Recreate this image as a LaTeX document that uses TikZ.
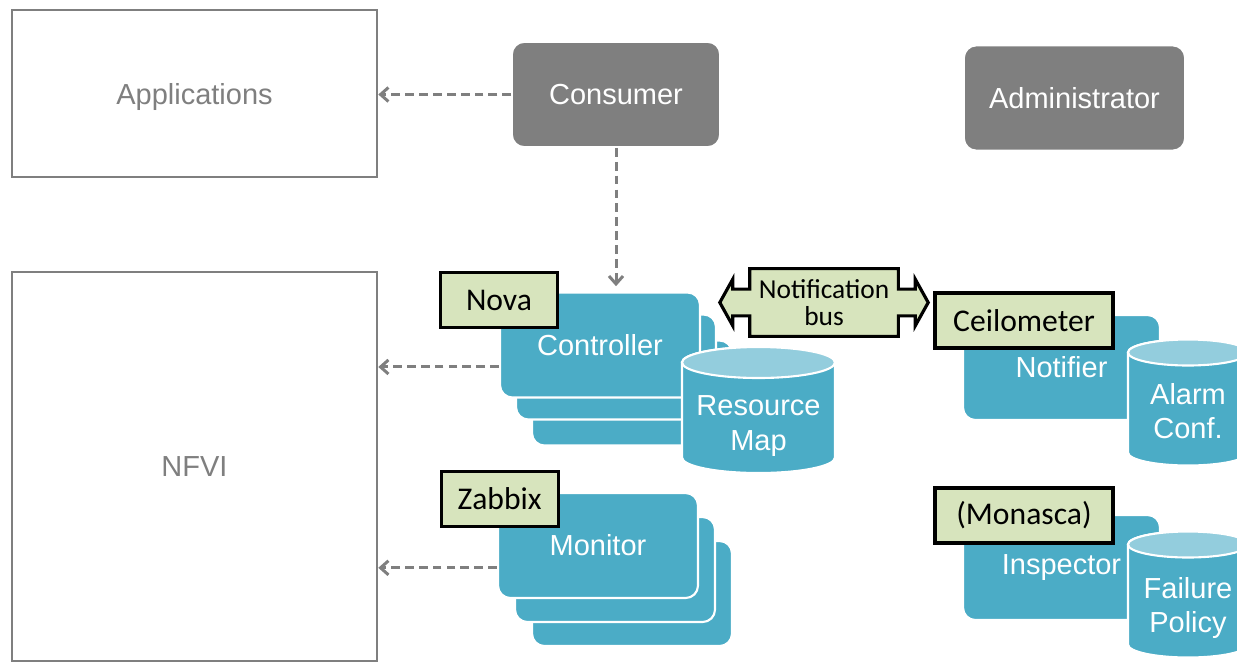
\documentclass[tikz,border=0pt]{standalone}
\usepackage{fontspec}
\setmainfont{Liberation Sans}
\newfontfamily\tagfont{Carlito}
\usetikzlibrary{arrows.meta,backgrounds,positioning}

\definecolor{linegray}{HTML}{7F7F7F}
\definecolor{procblue}{HTML}{4BACC6}
\definecolor{toplight}{HTML}{93CDDD}
\definecolor{tagfill}{HTML}{D7E4BD}

\tikzset{
  bigfont/.style={font=\fontsize{16.5}{19.5}\selectfont},
  outerbox/.style={draw=linegray, line width=1.5pt, text=linegray, bigfont, text depth=0pt},
  actor/.style={rounded corners=7pt, fill=linegray, draw=white, line width=1pt,
    text=white, bigfont, minimum height=2.1cm},
  procbox/.style={rounded corners=7pt, fill=procblue, draw=white, line width=1.2pt,
    text=white, bigfont, minimum width=4cm, minimum height=2.1cm},
  tagbox/.style={fill=tagfill, draw=black, line width=1.8pt, minimum height=1.1cm,
    font=\tagfont\fontsize{18}{20}\selectfont},
  storebody/.style={fill=procblue, draw=white, line width=1.2pt},
  storetop/.style={fill=toplight, draw=white, line width=1.2pt},
  storetext/.style={text=white, bigfont, align=center},
  busline/.style={fill=tagfill, draw=black, line width=1.8pt, line join=miter},
  dasharrow/.style={draw=linegray, line width=1.7pt, dash pattern=on 5pt off 2.9pt,
    -{Straight Barb[length=4.5pt,width=8pt]}}
}

\begin{document}
\begin{tikzpicture}[x=0.02cm, y=-0.02cm]
  \useasboundingbox (0,0) rectangle (1237,663);

  % outer boxes
  \node[outerbox, minimum width=7.3cm, minimum height=3.34cm] (apps) at (194.5,93.5) {Applications};
  \node[outerbox, minimum width=7.3cm, minimum height=7.78cm] (nfvi) at (194.5,466.5) {NFVI};

  % actors
  \node[actor, minimum width=4.16cm] (cons) at (616,94.5) {Consumer};
  \node[actor, minimum width=4.42cm] (admin) at (1074.5,98) {Administrator};

  % controller stack
  \node[procbox] (ctrlc) at (632,393) {};
  \node[procbox] (ctrlb) at (616,367) {};
  \node[procbox] (ctrl) at (600,345) {Controller};

  % monitor stack
  \node[procbox] (monc) at (632,593.5) {};
  \node[procbox] (monb) at (615,569.5) {};
  \node[procbox] (mon) at (598,545.5) {Monitor};

  % notifier and inspector
  \node[procbox, minimum width=3.94cm] (notif) at (1061.5,367.5) {Notifier};
  \node[procbox, minimum width=3.94cm] (insp) at (1061.5,567.5) {Inspector};

  % data stores
  \foreach \cx/\cy/\rx/\ry/\ty/\nm/\txt in {758.5/410/76.5/15.5/426/resmap/{Resource\\Map},
      1188/402.5/60/13/411/alarm/{Alarm\\Conf.}, 1188/594.5/60/13/608/policy/{Failure\\Policy}} {
    \path[storebody] ({\cx-\rx},{\cy-63+\ry}) -- ({\cx-\rx},{\cy+63-\ry})
      arc[start angle=180, end angle=360, x radius=\rx*0.02cm, y radius=\ry*0.02cm]
      -- ({\cx+\rx},{\cy-63+\ry})
      arc[start angle=0, end angle=180, x radius=\rx*0.02cm, y radius=\ry*0.02cm] -- cycle;
    \path[storetop] (\cx,{\cy-63+\ry}) ellipse [x radius=\rx*0.02cm, y radius=\ry*0.02cm];
    \node[storetext] (\nm) at (\cx,\ty) {\txt};
  }

  % tool labels
  \node[tagbox, minimum width=2.34cm] (nova) at ([yshift=-5pt]ctrl.north west) {Nova};
  \node[tagbox, minimum width=2.34cm] (zabbix) at ([shift={(1.5pt,-4pt)}]mon.north west) {Zabbix};
  \node[tagbox, minimum width=3.56cm] (ceilo) at (1024,320.5) {Ceilometer};
  \node[tagbox, minimum width=3.56cm] (monasca) at (1024,515.5) {(Monasca)};

  % notification bus
  \node[align=center, inner sep=0pt, minimum width=2.96cm, minimum height=1.34cm,
    font=\tagfont\fontsize{15.6}{15.8}\selectfont] (bus) at (824,302.5) {Notification\\bus};
  \begin{scope}[on background layer]
    \draw[busline] (bus.north west) -- (bus.north east)
      -- ([yshift=7.6pt]bus.east) -- ([shift={(9.6pt,7.6pt)}]bus.east)
      -- ([shift={(9.6pt,13.3pt)}]bus.east) -- ([xshift=17pt]bus.east)
      -- ([shift={(9.6pt,-13.3pt)}]bus.east) -- ([shift={(9.6pt,-7.6pt)}]bus.east)
      -- ([yshift=-7.6pt]bus.east) -- (bus.south east) -- (bus.south west)
      -- ([yshift=-7.6pt]bus.west) -- ([shift={(-9.6pt,-7.6pt)}]bus.west)
      -- ([shift={(-9.6pt,-13.3pt)}]bus.west) -- ([xshift=-17pt]bus.west)
      -- ([shift={(-9.6pt,13.3pt)}]bus.west) -- ([shift={(-9.6pt,7.6pt)}]bus.west)
      -- ([yshift=7.6pt]bus.west) -- cycle;
  \end{scope}

  % dashed links
  \path ([yshift=-12.5pt]ctrl.west) coordinate (ctrlout);
  \path ([yshift=-12.7pt]mon.west) coordinate (monout);
  \draw[dasharrow] (cons.west) -- (cons.west -| apps.east);
  \draw[dasharrow, shorten >=3pt] (cons.south) -- (cons.south |- ctrl.north);
  \draw[dasharrow] (ctrlout) -- (ctrlout -| nfvi.east);
  \draw[dasharrow] (monout) -- (monout -| nfvi.east);
\end{tikzpicture}
\end{document}
